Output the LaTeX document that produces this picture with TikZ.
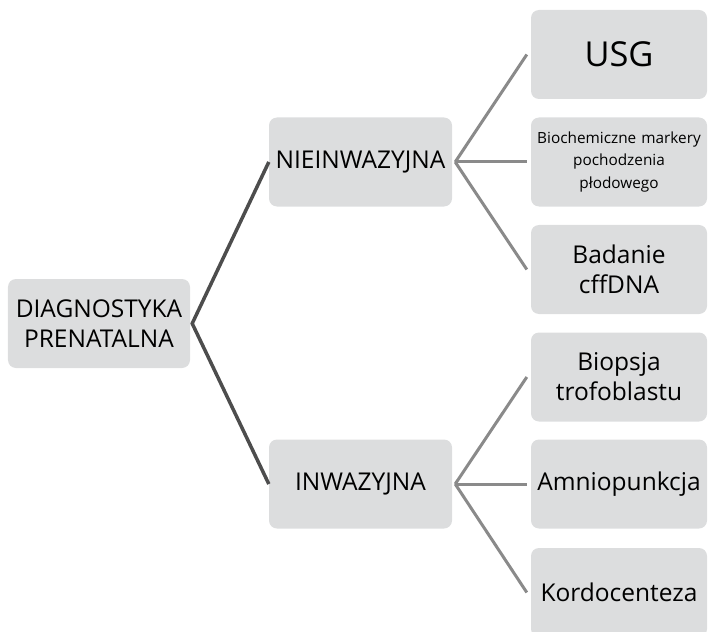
\documentclass[tikz,border=0pt]{standalone}
\usepackage{fontspec}
\setmainfont{Open Sans}
\definecolor{boxfill}{HTML}{DCDDDE}
\definecolor{darkline}{HTML}{4D4D4D}
\definecolor{lightline}{HTML}{8A8A8A}
\begin{document}
\begin{tikzpicture}[x=1bp,y=-1bp,
  box/.style={draw=none,fill=boxfill,rounded corners=8bp,align=center,inner sep=0pt,
    text width=#1,minimum height=89bp,font=\fontsize{24.6}{30}\selectfont},
  box/.default=178bp,
  mainline/.style={draw=darkline,line width=3.5bp},
  subline/.style={draw=lightline,line width=3bp}]
\useasboundingbox (0,0) rectangle (709,632);
\node[box=182bp] (root) at (99,323.5) {DIAGNOSTYKA\\PRENATALNA};
\node[box=183bp] (nie) at (360.5,162) {NIEINWAZYJNA};
\node[box=183bp] (inw) at (360.5,484) {INWAZYJNA};
\node[box=176bp,font=\fontsize{34.5}{40}\selectfont] (usg) at (619,54.5) {USG};
\node[box=176bp,font=\fontsize{15.4}{22.5}\selectfont] (bio) at (619,162) {Biochemiczne markery\\pochodzenia\\płodowego};
\node[box=176bp] (bad) at (619,269.5) {Badanie\\cffDNA};
\node[box=176bp] (biop) at (619,377) {Biopsja\\trofoblastu};
\node[box=176bp] (amn) at (619,484) {Amniopunkcja};
\node[box=176bp] (kor) at (619,592.5) {Kordocenteza};
\coordinate (rj) at ([xshift=2bp]root.east);
\draw[mainline,line join=miter] (nie.west) -- (rj) -- (inw.west);
\coordinate (nj) at ([xshift=3bp]nie.east);
\coordinate (ij) at ([xshift=3bp]inw.east);
\draw[subline] (nj) -- ([xshift=-4bp]usg.west);
\draw[subline] (nj) -- ([xshift=-4bp]bio.west);
\draw[subline] (nj) -- ([xshift=-4bp]bad.west);
\draw[subline] (ij) -- ([xshift=-4bp]biop.west);
\draw[subline] (ij) -- ([xshift=-4bp]amn.west);
\draw[subline] (ij) -- ([xshift=-4bp]kor.west);
\end{tikzpicture}
\end{document}
